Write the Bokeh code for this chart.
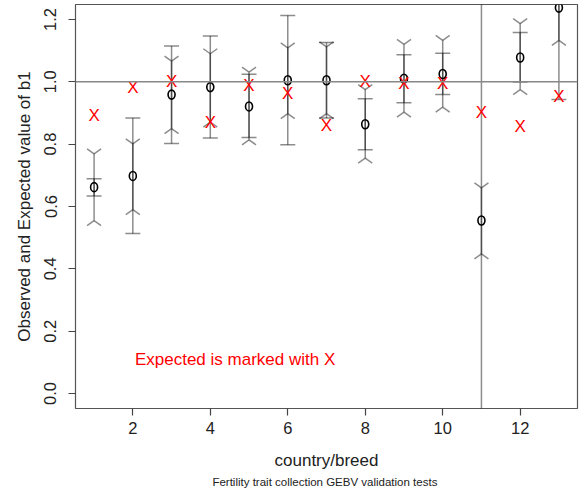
import math
from bokeh.plotting import figure
from bokeh.models import (Range1d, FixedTicker, PrintfTickFormatter, Span, Title,
                          Label, ColumnDataSource)
from bokeh.core.properties import value
from bokeh.embed import file_html
from bokeh.resources import INLINE

# ---- data ----
breed = [1, 2, 3, 4, 5, 6, 7, 8, 9, 10, 11, 12, 13]
observed = [0.662, 0.698, 0.959, 0.983, 0.921, 1.005, 1.005, 0.864, 1.010, 1.025, 0.555, 1.078, 1.238]
expected = [0.892, 0.983, 1.000, 0.871, 0.988, 0.964, 0.860, 1.000, 0.994, 0.994, 0.903, 0.857, 0.953]
# interval with flat caps
flat_lo = [0.634, 0.513, 0.802, 0.820, 0.821, 0.798, 0.884, 0.782, 0.933, 0.959, -0.350, 0.999, 0.943]
flat_hi = [0.689, 0.884, 1.115, 1.147, 1.024, 1.213, 1.126, 0.946, 1.087, 1.092, 1.460, 1.158, 1.533]
# interval with arrow-head ends
arr_lo = [0.555, 0.590, 0.850, 0.871, 0.814, 0.898, 0.898, 0.755, 0.903, 0.919, 0.448, 0.975, 1.133]
arr_hi = [0.769, 0.801, 1.066, 1.090, 1.031, 1.109, 1.112, 0.975, 1.120, 1.133, 0.660, 1.187, 1.343]

x_ticks = [2, 4, 6, 8, 10, 12]
y_ticks = [0.0, 0.2, 0.4, 0.6, 0.8, 1.0, 1.2]
x_label = "country/breed"
y_label = "Observed and Expected value of b1"
sub_label = "Fertility trait collection  GEBV validation tests"
note = "Expected is marked with X"

src = ColumnDataSource(dict(x=breed, obs=observed, exp=expected,
                            flo=flat_lo, fhi=flat_hi, alo=arr_lo, ahi=arr_hi,
                            mark=["X"] * len(breed)))

FONT = "Liberation Sans"

p = figure(width=580, height=493, output_backend="svg", toolbar_location=None,
           x_range=Range1d(0.52, 13.48), y_range=Range1d(-0.048, 1.248),
           min_border_left=75, min_border_right=3, min_border_top=4, min_border_bottom=85)
p.grid.visible = False
p.background_fill_color = "white"
p.outline_line_color = "#555555"
p.outline_line_width = 1.2

for ax in (p.xaxis[0], p.yaxis[0]):
    ax.axis_line_color = None
    ax.major_tick_line_color = "#444444"
    ax.major_tick_line_width = 1.2
    ax.major_tick_out = 7
    ax.major_tick_in = 0
    ax.minor_tick_line_color = None
    ax.major_label_text_font = FONT
    ax.major_label_text_font_size = "16.5px"
    ax.major_label_text_color = "#222222"
    ax.axis_label_text_font = FONT
    ax.axis_label_text_font_size = "17px"
    ax.axis_label_text_font_style = "normal"
    ax.axis_label_text_color = "#222222"

p.xaxis.ticker = FixedTicker(ticks=x_ticks)
p.yaxis.ticker = FixedTicker(ticks=y_ticks)
p.yaxis.formatter = PrintfTickFormatter(format="%.1f")
p.yaxis.major_label_orientation = "vertical"
p.xaxis.axis_label = x_label
p.yaxis.axis_label = y_label
p.xaxis.major_label_standoff = 6
p.xaxis.axis_label_standoff = 14
p.yaxis.major_label_standoff = 12
p.yaxis.axis_label_standoff = 8

# reference line at 1
p.add_layout(Span(location=1.0, dimension="width", line_color="#888888", line_width=1.5))

LC = "black"
LA = 0.45
LW = 1.5
# flat-capped intervals
p.segment(x0="x", y0="flo", x1="x", y1="fhi", source=src, line_color=LC, line_alpha=LA, line_width=LW)
p.scatter(x="x", y="flo", source=src, marker="dash", size=15, line_color=LC, line_alpha=LA, line_width=LW)
p.scatter(x="x", y="fhi", source=src, marker="dash", size=15, line_color=LC, line_alpha=LA, line_width=LW)
# arrow-head intervals
p.segment(x0="x", y0="alo", x1="x", y1="ahi", source=src, line_color=LC, line_alpha=LA, line_width=LW)
a = math.atan2(5, 7)
L = math.hypot(5, 7)
for ang in (a, math.pi - a):
    p.ray(x="x", y="ahi", source=src, length=L, length_units="screen", angle=ang,
          line_color=LC, line_alpha=LA, line_width=LW)
for ang in (-a, math.pi + a):
    p.ray(x="x", y="alo", source=src, length=L, length_units="screen", angle=ang,
          line_color=LC, line_alpha=LA, line_width=LW)

# observed (o) and expected (X)
p.ellipse(x="x", y="obs", source=src, width=7, height=9, width_units="screen",
          height_units="screen", fill_color=None, line_color="black", line_width=1.6)
p.text(x="x", y="exp", text="mark", source=src, text_color="red", text_font=value(FONT),
       text_font_size="17px", text_align="center", text_baseline="middle")

p.add_layout(Label(x=4.64, y=0.109, text=note, text_color="red", text_font=FONT,
                   text_font_size="17px", text_align="center", text_baseline="middle"))

p.add_layout(Title(text=sub_label, align="center", text_font=FONT, text_font_size="11.5px",
                   text_font_style="normal", text_color="#222222", standoff=2), "below")

open("out.html", "w").write(file_html(p, INLINE))
